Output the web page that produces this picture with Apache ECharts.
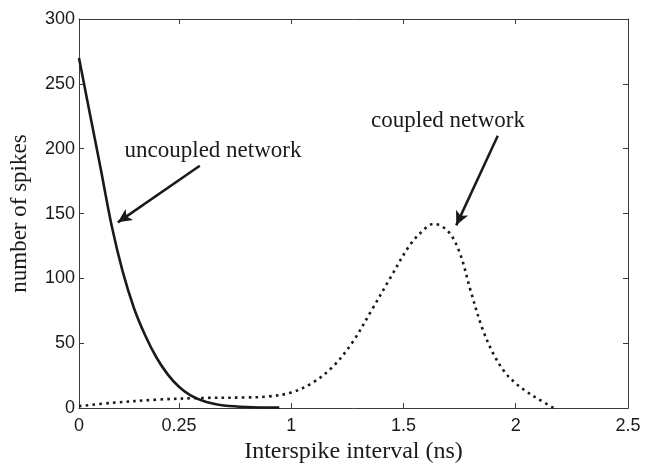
<!DOCTYPE html>
<html>
<head>
<meta charset="utf-8">
<script src="https://cdn.jsdelivr.net/npm/echarts@6/dist/echarts.min.js"></script>
<style>
html,body{margin:0;padding:0;background:#fff;}
#chart{width:649px;height:469px;}
</style>
</head>
<body>
<div id="chart"></div>
<script>
// ---- data ----
const xMin = 0.055;
const xMax = 2.5;
const xTickValues = [0.055, 0.5, 1, 1.5, 2, 2.5];
const xTickLabels = ['0', '0.25', '1', '1.5', '2', '2.5'];
const yTickStep = 50;

const uncoupledX = [0.055, 0.1, 0.15, 0.2, 0.25, 0.3, 0.35, 0.4, 0.45, 0.5, 0.55, 0.6, 0.65, 0.7, 0.8, 0.947];
const uncoupledY = [270, 230, 186, 141, 105, 77, 56, 39, 26, 16.5, 10, 6, 3.5, 2, 0.9, 0.4];

const coupledX = [0.055, 0.2, 0.4, 0.6, 0.8, 0.9, 1.0, 1.09, 1.18, 1.27, 1.36, 1.44, 1.53, 1.6, 1.635, 1.7, 1.75, 1.8, 1.85, 1.9, 1.95, 2.0, 2.05, 2.1, 2.17];
const coupledY = [1.5, 4, 6.5, 7.8, 8.2, 9, 12, 19, 31, 50, 76, 100, 126, 139, 142, 136, 120, 90, 62, 42, 28, 19, 12.5, 7, 0];

const arrowUncoupled = [[0.593, 186.9], [0.228, 143.2]];
const arrowCoupled = [[1.920, 210], [1.735, 140.9]];

const labelUncoupled = 'uncoupled network';
const labelCoupled = 'coupled network';
const xAxisName = 'Interspike interval (ns)';
const yAxisName = 'number of spikes';

// ---- chart ----
const zip = (xs, ys) => xs.map((x, i) => [x, ys[i]]);
const lineCol = '#1a1a1a';
const frameCol = '#3a3a3a';
const sans = '"Liberation Sans", Arial, sans-serif';
const serif = '"Liberation Serif", "Times New Roman", serif';

function xLabel(v) {
  const i = xTickValues.findIndex(t => Math.abs(t - v) < 1e-6);
  return i >= 0 ? xTickLabels[i] : '';
}

const chart = echarts.init(document.getElementById('chart'), null, {renderer: 'canvas'});

const arrowLine = (pts) => ({
  silent: true,
  animation: false,
  symbol: ['none', 'arrow'],
  symbolSize: [10, 14],
  label: {show: false},
  lineStyle: {color: lineCol, width: 2.5, type: 'solid'},
  emphasis: {disabled: true},
  data: [[{coord: pts[0]}, {coord: pts[1]}]]
});

chart.setOption({
  animation: false,
  backgroundColor: '#fff',
  grid: {left: 77, right: 21, top: 19, bottom: 54, containLabel: false},
  xAxis: [{
    type: 'value', min: xMin, max: xMax, position: 'bottom',
    name: xAxisName, nameLocation: 'middle', nameGap: 28,
    nameTextStyle: {fontFamily: serif, fontSize: 24, color: lineCol},
    axisLine: {show: true, onZero: false, lineStyle: {color: frameCol, width: 1}},
    axisTick: {show: true, inside: true, length: 5, customValues: xTickValues, lineStyle: {color: frameCol}},
    axisLabel: {show: true, customValues: xTickValues, formatter: xLabel, margin: 9,
      fontFamily: sans, fontSize: 18, color: '#1a1a1a'},
    splitLine: {show: false}
  }, {
    type: 'value', min: xMin, max: xMax, position: 'top',
    axisLine: {show: true, onZero: false, lineStyle: {color: frameCol, width: 1}},
    axisTick: {show: true, inside: true, length: 5, customValues: xTickValues, lineStyle: {color: frameCol}},
    axisLabel: {show: false},
    splitLine: {show: false}
  }],
  yAxis: [{
    type: 'value', min: 0, max: 300, interval: yTickStep, position: 'left',
    name: yAxisName, nameLocation: 'middle', nameGap: 48,
    nameTextStyle: {fontFamily: serif, fontSize: 23, color: lineCol},
    axisLine: {show: true, onZero: false, lineStyle: {color: frameCol, width: 1}},
    axisTick: {show: true, inside: true, length: 5, lineStyle: {color: frameCol}},
    axisLabel: {show: true, margin: 4, fontFamily: sans, fontSize: 18, color: '#1a1a1a'},
    splitLine: {show: false}
  }, {
    type: 'value', min: 0, max: 300, interval: yTickStep, position: 'right',
    axisLine: {show: true, onZero: false, lineStyle: {color: frameCol, width: 1}},
    axisTick: {show: true, inside: true, length: 5, lineStyle: {color: frameCol}},
    axisLabel: {show: false},
    splitLine: {show: false}
  }],
  series: [{
    name: 'uncoupled network', type: 'line', xAxisIndex: 0, yAxisIndex: 0,
    data: zip(uncoupledX, uncoupledY), smooth: 0.35, showSymbol: false,
    lineStyle: {color: lineCol, width: 2.6},
    markLine: arrowLine(arrowUncoupled)
  }, {
    name: 'coupled network', type: 'line', xAxisIndex: 0, yAxisIndex: 0,
    data: zip(coupledX, coupledY), smooth: 0.35, showSymbol: false,
    lineStyle: {color: lineCol, width: 2.6, type: [2.6, 4.2], cap: 'butt'},
    markLine: arrowLine(arrowCoupled)
  }],
  graphic: [
    {type: 'text', x: 213, y: 151, silent: true,
     style: {text: labelUncoupled, font: '23px ' + serif, fill: lineCol, align: 'center', verticalAlign: 'middle'}},
    {type: 'text', x: 448, y: 121, silent: true,
     style: {text: labelCoupled, font: '23px ' + serif, fill: lineCol, align: 'center', verticalAlign: 'middle'}}
  ]
});
</script>
</body>
</html>
